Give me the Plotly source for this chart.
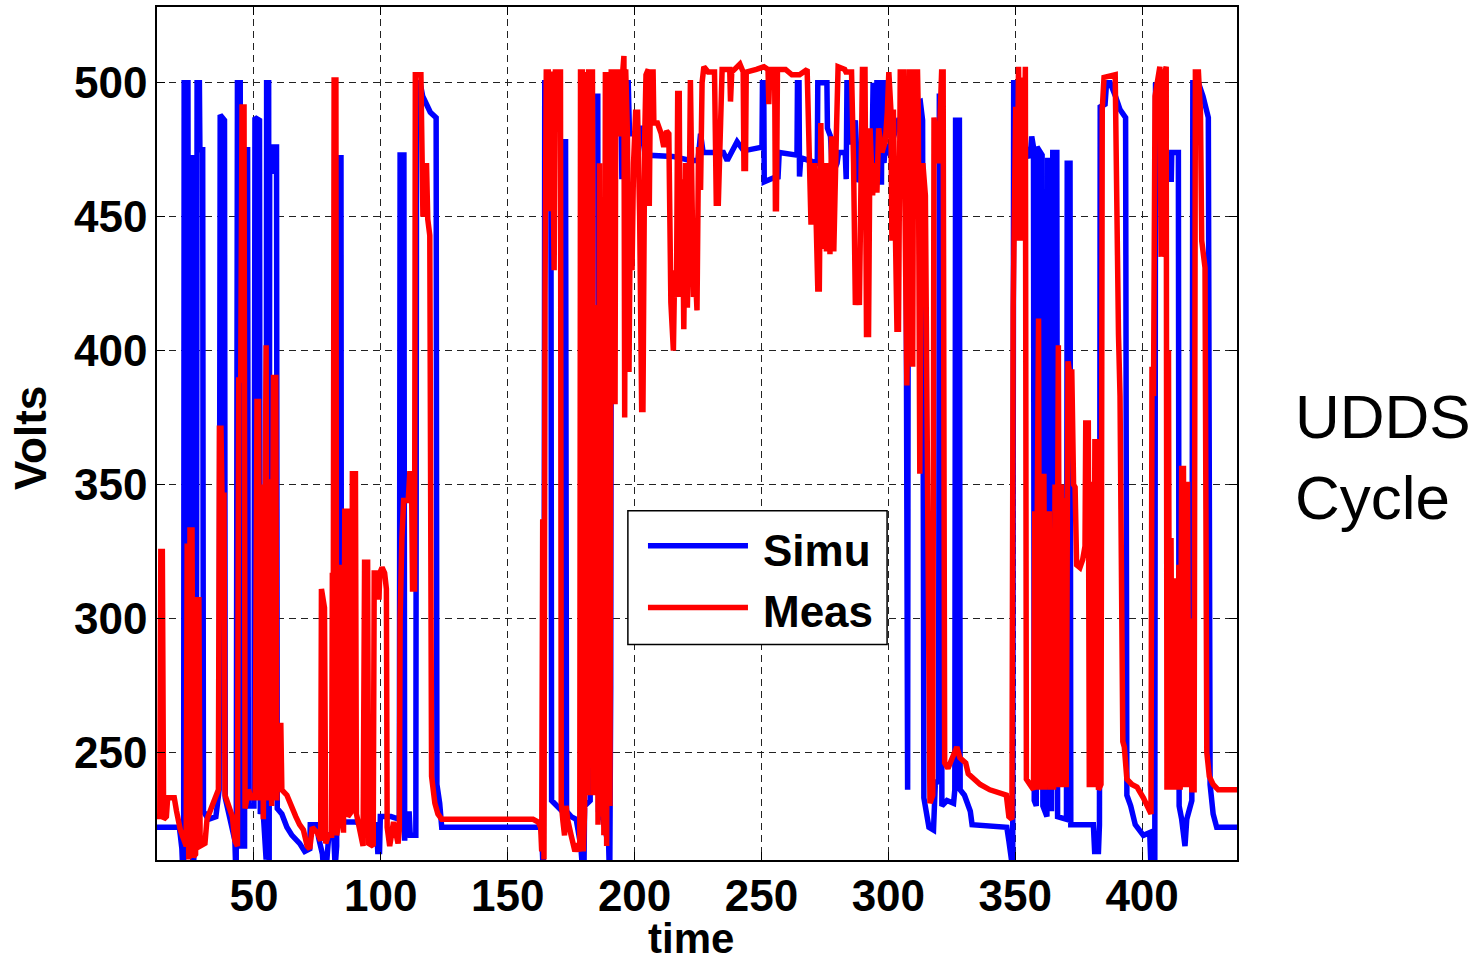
import plotly.graph_objects as go

# ---------------- data (time, volts) ----------------
simu_points = [
    (11.8, 222), (20.6, 222), (21.0, 219), (21.6, 214), (22.0, 205), (22.3, 200), (22.5, 500), (24.0, 500),
    (24.2, 300), (24.4, 472), (25.6, 472), (25.9, 200), (26.5, 215), (27.3, 225), (27.6, 500), (28.5, 500),
    (28.7, 475), (29.8, 475), (30.1, 228), (32, 225), (35, 226), (36.3, 236), (36.7, 488), (38.4, 486),
    (38.7, 233), (40, 228), (41.5, 222), (42.5, 217), (43, 200), (43.5, 500), (44.6, 500), (44.9, 215),
    (46.3, 215), (46.5, 475), (47.5, 475), (47.8, 230), (50, 230), (50.4, 487), (52.2, 486), (52.5, 227),
    (53.5, 230), (54.8, 210), (55.0, 500), (55.8, 500), (56.0, 200), (56.2, 467), (57.3, 467), (57.5, 476),
    (58.9, 476), (59.2, 229), (61, 227), (63, 222), (65, 219), (68, 216), (70, 213), (72, 214), (72.2, 223),
    (74.7, 223), (75.5, 218), (77.0, 212), (77.5, 205), (78.5, 207), (79.5, 219), (81.5, 218), (82.0, 207),
    (82.6, 215), (82.8, 472), (84.3, 472), (84.5, 224), (90, 224), (95, 223), (98.3, 223), (98.8, 213),
    (99.5, 213), (99.8, 226), (104, 226), (107.3, 225), (107.6, 473), (109.1, 473), (109.4, 217), (109.8, 227),
    (111.2, 227), (111.6, 219), (113.8, 219), (114.1, 500), (115.5, 500), (116.5, 495), (118, 492), (119.5, 489),
    (121.8, 487), (122.1, 238), (123.2, 231), (124, 222), (163.3, 222), (163.7, 216), (164.0, 205), (164.4, 320),
    (164.6, 500), (167.0, 500), (167.3, 232), (171.5, 228), (171.8, 478), (172.8, 478), (173.0, 294), (173.2, 228),
    (175, 226), (177, 225), (178.8, 215), (179.3, 200), (180.0, 200), (180.3, 230), (182.5, 232), (183.0, 495),
    (185.5, 495), (185.8, 228), (187.5, 225), (189.8, 215), (190.2, 200), (190.6, 275), (190.9, 500), (194.5, 500),
    (195.0, 464), (195.3, 500), (197.5, 500), (198.0, 481), (200.7, 481), (201.0, 470), (202.4, 483), (203.7, 483),
    (204.0, 473), (215, 472.5), (222, 471), (225, 471), (226, 481), (227, 474), (235, 474), (236.5, 471),
    (240.4, 478), (243, 474.6), (248.3, 475.9), (250.2, 476), (250.4, 500), (250.9, 500), (251.1, 463), (253.5, 464),
    (256.0, 465), (256.5, 464), (257.0, 474), (264.0, 473), (264.2, 500), (264.8, 500), (265.0, 465), (265.5, 472),
    (272.0, 470), (272.2, 500), (275.8, 500), (276.0, 483), (277.2, 480), (278, 466), (279.8, 470), (280.4, 474),
    (283.0, 474), (283.4, 464), (283.7, 500), (285.0, 500), (285.3, 477), (287, 486), (288, 463), (291, 470),
    (293.4, 463), (293.6, 500), (294.0, 500), (294.2, 463), (295.3, 463), (295.5, 500), (295.9, 500), (296.2, 463),
    (297.3, 463), (297.5, 500), (298.0, 500), (298.3, 470), (298.8, 477), (300.8, 473), (301.5, 478), (304, 486),
    (306.5, 486), (306.9, 480), (307.1, 236), (307.6, 236), (307.9, 490), (310, 492), (312.6, 493), (313.5, 486),
    (314, 233), (315.2, 226), (316, 222), (317.8, 221), (318.5, 238), (319.8, 240), (320.1, 495), (320.8, 495),
    (321.1, 230), (323.1, 232), (325.7, 231), (326.2, 236), (326.5, 486), (328.0, 486), (328.3, 236), (330, 234),
    (332.3, 228), (333, 223), (346.7, 222), (347.5, 217), (348.5, 210), (349.0, 200), (349.4, 500), (350.4, 500),
    (350.7, 479), (353, 478), (355.9, 472), (356.5, 480), (357.2, 476), (357.5, 232), (358.3, 230), (358.6, 476),
    (360.6, 473), (360.9, 230), (362.5, 226), (362.8, 471), (364.0, 471), (364.3, 228), (364.8, 474), (366.4, 474),
    (366.7, 226), (370.2, 225), (370.5, 470), (371.6, 470), (371.9, 223), (380.8, 223), (381.3, 213), (382.8, 213),
    (383.2, 223), (383.5, 491), (385.4, 492), (386, 500), (387.4, 500), (389.5, 495), (391.3, 490), (393.5, 487),
    (394, 234), (395.5, 230), (397.3, 223), (400.5, 219), (403, 220), (403.5, 207), (405.0, 200), (405.3, 500),
    (408.5, 495), (409, 464), (411.5, 464), (411.7, 474), (414.3, 474), (414.6, 230), (415.6, 225), (416.9, 215),
    (417.6, 225), (419.6, 232), (420.0, 500), (422.2, 500), (424, 495), (426.1, 487), (426.8, 238), (428, 227),
    (429.4, 222), (437.4, 222),
]

meas_points = [
    (11.8, 226), (12.9, 226), (13.3, 325), (13.9, 325), (14.4, 225), (15.5, 226), (16, 233), (18.6, 233),
    (19.5, 228), (21, 221), (23.3, 215), (23.7, 328), (24.3, 210), (24.8, 333), (25.6, 333), (26.1, 211),
    (27.0, 212), (27.5, 307), (28.3, 307), (28.8, 215), (30.7, 216), (31.5, 225), (33.5, 230), (35.3, 234),
    (36.0, 236), (36.4, 371), (37.0, 371), (37.4, 346), (38.2, 346), (38.6, 234), (40, 230), (41.5, 226),
    (42.5, 217), (43.5, 215), (44.0, 389), (44.8, 389), (45.3, 491), (46.1, 491), (46.5, 229), (47.8, 236),
    (49.0, 233), (50.5, 233), (51.2, 381), (51.8, 381), (52.4, 232), (52.8, 350), (53.3, 350), (53.7, 225),
    (54.3, 402), (54.8, 402), (55.2, 232), (55.8, 352), (56.3, 325), (57.0, 230), (57.7, 390), (58.6, 390),
    (59.0, 232), (59.8, 260), (60.6, 260), (61.0, 236), (63, 234), (65, 229), (66.5, 226), (68, 223),
    (69.5, 221), (71, 215), (72, 214), (73, 222), (75, 220), (76.3, 217), (76.6, 311), (77.8, 304),
    (78.3, 216), (79.3, 219), (80.6, 219), (80.9, 316), (81.3, 316), (81.6, 501), (82.3, 501), (82.6, 219),
    (83.5, 224), (84.4, 319), (85.0, 319), (85.3, 220), (85.8, 340), (86.6, 340), (87.0, 226), (88.5, 228),
    (88.8, 354), (90.0, 354), (90.4, 227), (91.5, 222), (93.0, 215), (93.6, 321), (94.8, 321), (95.2, 216),
    (97.0, 215), (97.4, 317), (98.3, 317), (98.7, 308), (99.3, 308), (99.6, 317), (100.5, 319), (101.5, 317),
    (102.2, 311), (102.5, 222), (103.5, 215), (105, 224), (106.8, 216), (107.3, 221), (107.6, 300), (108.3, 330),
    (109.0, 344), (110.8, 344), (111.4, 354), (112.1, 354), (112.5, 311), (113.3, 311), (113.6, 503), (115.8, 503),
    (116.2, 487), (116.6, 450), (117.3, 455), (118.0, 470), (118.5, 449), (119.3, 443), (120.0, 241), (121.3, 231),
    (122.5, 227), (124, 225), (160, 225), (162, 224), (163.0, 222), (163.4, 213), (163.8, 337), (164.3, 210),
    (164.7, 421), (165.2, 504), (166.0, 504), (166.3, 452), (166.7, 502), (167.5, 504), (168.3, 430), (168.8, 504),
    (170.8, 504), (171.1, 231), (171.8, 224), (172.4, 219), (173.0, 230), (173.6, 225), (175, 219), (176.5, 213),
    (177.5, 216), (178.4, 213), (178.7, 504), (179.4, 504), (179.8, 213), (180.3, 228), (180.7, 504), (181.6, 234),
    (181.9, 504), (183.4, 504), (183.8, 234), (184.3, 416), (185.2, 416), (185.6, 223), (186.2, 470), (186.6, 226),
    (187.3, 400), (187.9, 219), (188.5, 504), (189.0, 215), (189.6, 504), (190.3, 230), (190.8, 504), (192.0, 504),
    (192.3, 380), (192.6, 504), (193.8, 504), (194.3, 480), (195.0, 500), (195.8, 510), (196.1, 375), (196.5, 505),
    (197.2, 480), (197.8, 392), (198.3, 450), (199.0, 430), (199.6, 470), (200.4, 489), (201.2, 489), (202.0, 450),
    (202.8, 378), (203.3, 378), (204.0, 480), (204.5, 503), (205.4, 505), (205.8, 454), (206.3, 504), (207.3, 504),
    (207.6, 485), (209, 485), (210.5, 481), (211.5, 476), (212.6, 482), (213.5, 481), (214.3, 418), (215.3, 400),
    (215.8, 430), (216.5, 420), (217.0, 496), (217.6, 496), (218.0, 420), (218.8, 464), (219.4, 408), (220.1, 470),
    (220.8, 416), (221.5, 450), (222.0, 501), (222.5, 440), (223.2, 420), (223.8, 432), (224.6, 415), (225.2, 476),
    (226.0, 460), (226.6, 500), (227.3, 506), (229, 504), (231.5, 504), (232.2, 455), (233.0, 455), (233.9, 485),
    (234.5, 505), (237.5, 505), (237.8, 493), (238.3, 504), (241.5, 507), (242.8, 504), (243.1, 468), (243.7, 468),
    (244.0, 504), (248, 505), (251, 506), (252.6, 505), (252.9, 492), (253.3, 505), (255.2, 505), (255.5, 453),
    (255.9, 453), (256.3, 505), (259.5, 505), (262, 503), (265, 503), (268, 505), (268.5, 485), (269.5, 448),
    (270.2, 448), (271.0, 470), (272.2, 423), (272.8, 423), (273.4, 485), (274.2, 438), (275.0, 470), (275.6, 437),
    (276.3, 470), (277.0, 436), (277.6, 480), (278.5, 437), (279.5, 480), (280.2, 506), (282.8, 505), (283.3, 504),
    (285.5, 504), (286.3, 470), (287.0, 417), (287.8, 432), (288.6, 417), (289.3, 470), (289.8, 505), (290.8, 505),
    (291.4, 406), (292.2, 406), (292.8, 483), (293.8, 458), (294.5, 470), (295.5, 459), (296.2, 483), (297.5, 474),
    (298.8, 478), (299.6, 489), (300.2, 504), (301.0, 490), (301.4, 441), (302.0, 490), (302.8, 416), (303.4, 408),
    (304.0, 408), (304.7, 504), (306.0, 504), (306.8, 450), (307.3, 387), (307.7, 420), (308.2, 504), (309.2, 504),
    (309.6, 394), (310.0, 504), (311.5, 504), (311.8, 489), (312.4, 354), (313.0, 460), (313.6, 470), (314.6, 458),
    (315.9, 315), (316.4, 231), (317.5, 234), (318.0, 487), (319.8, 470), (320.3, 487), (321.0, 504), (321.6, 504),
    (322.2, 246), (323.5, 244), (325.5, 248), (327.0, 252), (328.2, 248), (330.5, 246), (331.5, 242), (334, 240),
    (336.2, 238), (340, 236), (346.5, 234), (347.5, 226), (348.7, 225), (349.2, 416), (349.7, 491), (350.2, 491),
    (350.7, 441), (351.3, 506), (352.0, 441), (352.6, 502), (353.3, 452), (354.0, 506), (354.4, 240), (355.5, 238),
    (357.2, 236), (357.7, 340), (358.2, 236), (358.7, 340), (359.2, 412), (359.6, 236), (360.3, 339), (360.8, 236),
    (361.3, 354), (361.8, 236), (362.3, 340), (362.9, 237), (363.4, 340), (364.0, 236), (364.6, 330), (365.1, 236),
    (365.7, 350), (366.3, 237), (367.0, 402), (367.5, 237), (368.2, 350), (368.8, 237), (369.5, 345), (370.1, 237),
    (370.8, 396), (371.4, 392), (372.3, 392), (373.0, 350), (373.6, 349), (374.2, 320), (375.5, 319), (376.6, 322),
    (377.5, 327), (377.8, 373), (378.8, 373), (379.2, 237), (379.6, 350), (380.4, 350), (380.8, 237), (381.4, 366),
    (382.3, 366), (382.8, 236), (383.8, 238), (384.3, 490), (385.0, 502), (389.4, 503), (390.0, 450), (390.7, 406),
    (391.3, 383), (392.4, 254), (393.0, 252), (394, 240), (396, 238), (398, 237), (400.5, 233), (402, 230),
    (403.5, 227), (403.9, 394), (404.5, 383), (405.1, 495), (407.0, 506), (407.5, 435), (408.0, 500), (409.5, 506),
    (409.8, 236), (410.4, 400), (410.8, 236), (411.4, 330), (411.9, 236), (412.3, 315), (412.8, 236), (413.4, 300),
    (413.9, 236), (414.5, 320), (415.0, 236), (415.6, 356), (416.3, 356), (416.7, 237), (417.3, 350), (417.9, 350),
    (418.4, 237), (419.0, 300), (419.6, 236), (420.5, 236), (421.0, 504), (422.2, 504), (423.0, 489), (423.5, 441),
    (424.8, 431), (425.5, 250), (426.5, 241), (428, 238), (430, 236), (437.4, 236),
]

x_ticks = [50, 100, 150, 200, 250, 300, 350, 400]
y_ticks = [250, 300, 350, 400, 450, 500]
x_range = [11.8, 437.4]
y_range = [209.8, 528.3]
series_names = ["Simu", "Meas"]
series_colors = ["#0000FF", "#FF0000"]

simu_t = [p[0] for p in simu_points]
simu_v = [p[1] for p in simu_points]
meas_t = [p[0] for p in meas_points]
meas_v = [p[1] for p in meas_points]

FONT = "Liberation Sans, Arial, Helvetica, sans-serif"
LW = 5.5

fig = go.Figure()
fig.add_trace(go.Scatter(x=simu_t, y=simu_v, mode="lines", name=series_names[0],
                         line=dict(color=series_colors[0], width=LW)))
fig.add_trace(go.Scatter(x=meas_t, y=meas_v, mode="lines", name=series_names[1],
                         line=dict(color=series_colors[1], width=LW)))

axis_common = dict(
    showgrid=True, gridcolor="#222222", gridwidth=1, griddash="7px,5px",
    showline=True, linecolor="black", linewidth=1.5, mirror="ticks",
    ticks="inside", ticklen=8, tickcolor="black", tickwidth=1,
    zeroline=False,
    tickfont=dict(family=FONT, size=44, color="black", weight="bold"),
)

fig.update_xaxes(range=x_range, tickvals=x_ticks, ticktext=[str(v) for v in x_ticks],
                 ticklabelstandoff=-4, **axis_common)
fig.update_yaxes(range=y_range, tickvals=y_ticks, ticktext=[str(v) for v in y_ticks],
                 ticklabelstandoff=-1, **axis_common)

# manual MATLAB-style legend box
lx0, lx1, ly0, ly1 = 0.436, 0.676, 0.2526, 0.4094
shapes = [dict(type="rect", xref="paper", yref="paper", x0=lx0, x1=lx1, y0=ly0, y1=ly1,
               line=dict(color="black", width=1.5), fillcolor="white", layer="above")]
legend_rows = [0.3684, 0.2959]
annotations = []
for name, color, yy in zip(series_names, series_colors, legend_rows):
    shapes.append(dict(type="line", xref="paper", yref="paper", x0=0.4546, x1=0.5472, y0=yy, y1=yy,
                       line=dict(color=color, width=LW), layer="above"))
    annotations.append(dict(xref="paper", yref="paper", x=0.559, y=yy - 0.005, text=name,
                            showarrow=False, xanchor="left", yanchor="middle",
                            font=dict(family=FONT, size=44, color="black", weight="bold")))

annotations.append(dict(xref="paper", yref="paper", x=0.4944, y=(860 - 939) / 855, text="time",
                        showarrow=False, xanchor="center", yanchor="middle", borderpad=0,
                        font=dict(family=FONT, size=42, color="black", weight="bold")))
annotations.append(dict(xref="paper", yref="paper", x=-0.1176, y=0.4947, text="Volts", showarrow=False,
                        xanchor="center", yanchor="middle", textangle=-90,
                        font=dict(family=FONT, size=44, color="black", weight="bold")))
annotations.append(dict(xref="paper", yref="paper", x=1.0515, y=0.472, text="UDDS<br>Cycle", showarrow=False,
                        xanchor="left", yanchor="middle", align="left",
                        font=dict(family=FONT, size=62, color="black")))

fig.update_layout(
    width=1483, height=966,
    margin=dict(l=157, r=246, t=5, b=106),
    paper_bgcolor="white", plot_bgcolor="white",
    showlegend=False,
    shapes=shapes, annotations=annotations,
)

fig.write_html("out.html")
